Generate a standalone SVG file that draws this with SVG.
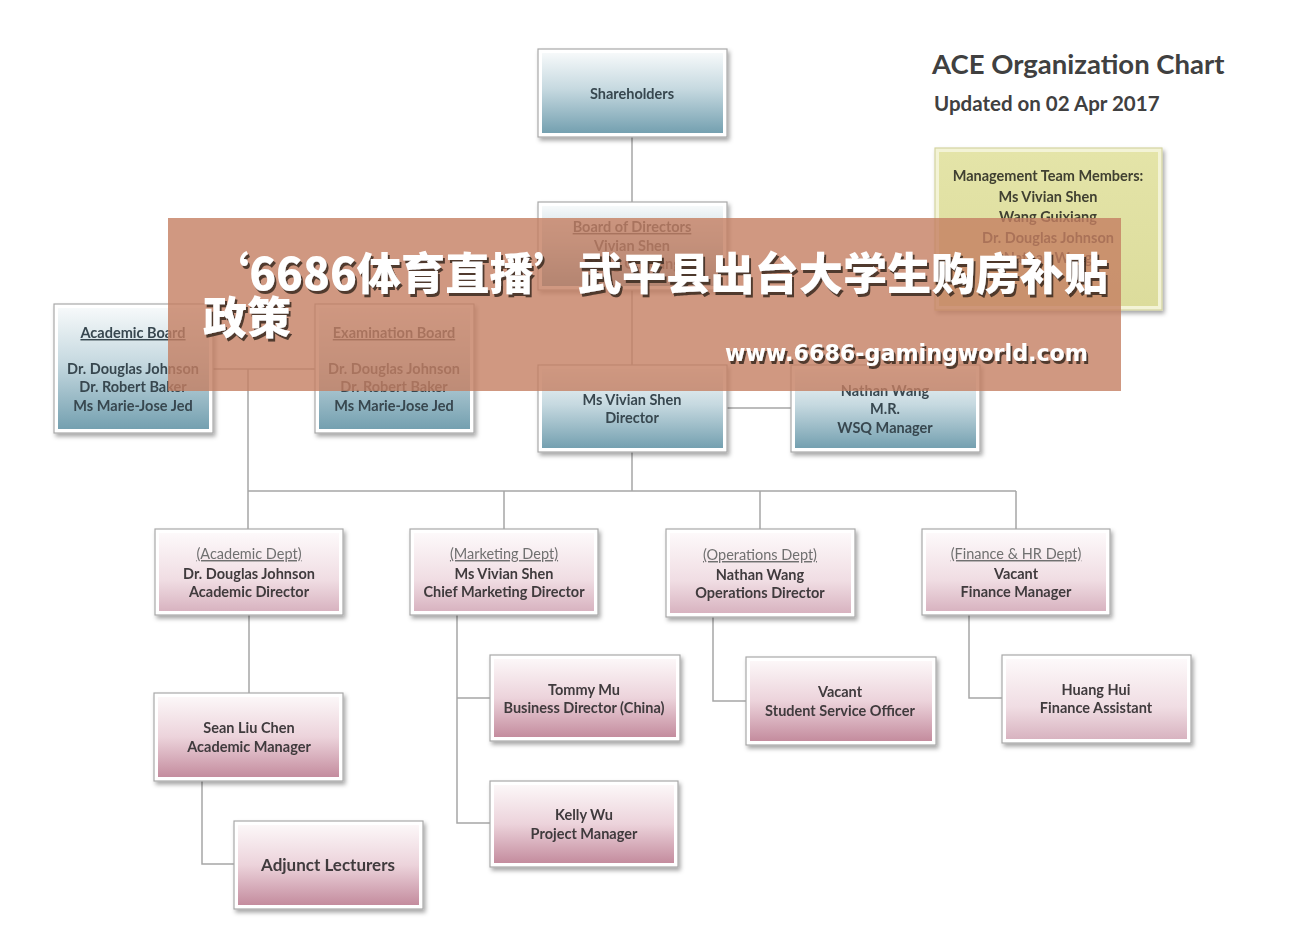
<svg xmlns="http://www.w3.org/2000/svg" width="1289" height="952" viewBox="0 0 1289 952">
<defs>
<linearGradient id="gBlue" x1="0" y1="0" x2="0" y2="1">
<stop offset="0" stop-color="#f6f9fa"/><stop offset="0.45" stop-color="#c6d9e0"/><stop offset="1" stop-color="#74a0b0"/>
</linearGradient>
<linearGradient id="gPink" x1="0" y1="0" x2="0" y2="1">
<stop offset="0" stop-color="#fcf7f8"/><stop offset="0.5" stop-color="#ecd3db"/><stop offset="1" stop-color="#c48c9e"/>
</linearGradient>
<linearGradient id="gPinkL" x1="0" y1="0" x2="0" y2="1">
<stop offset="0" stop-color="#fdf9fa"/><stop offset="0.6" stop-color="#f0dde3"/><stop offset="1" stop-color="#d8b3c0"/>
</linearGradient>
<linearGradient id="gYel" x1="0" y1="0" x2="0" y2="1">
<stop offset="0" stop-color="#e4e4a8"/><stop offset="1" stop-color="#dcdc9c"/>
</linearGradient>
<filter id="sh" x="-10%" y="-10%" width="125%" height="130%">
<feDropShadow dx="2" dy="3" stdDeviation="2" flood-color="#000" flood-opacity="0.35"/>
</filter>
<filter id="tsh" x="-5%" y="-20%" width="110%" height="150%">
<feDropShadow dx="2" dy="3" stdDeviation="0.6" flood-color="#3a2a22" flood-opacity="0.85"/>
</filter>
</defs>
<style>
.o{fill:#ffffff;stroke:#a9a9a9;stroke-width:1.2}
.t{font-family:Lato,"Open Sans","Liberation Sans",sans-serif;font-weight:bold;font-size:14.5px;text-anchor:middle}
.tb{fill:#37474f}
.tp{fill:#3f3a3d}
.h{font-weight:normal;fill:#707070;text-decoration:underline}
.hb{text-decoration:underline}
.c{fill:none;stroke:#a6a6a6;stroke-width:1.5}
</style>
<rect width="1289" height="952" fill="#ffffff"/>

<g id="connectors">
<path class="c" d="M632 137V202M632 290V365M213 369H315M248 369V529M727 408H791M632 452V491M248 491H1016M504 491V529M760 491V529M1016 491V529M249 615V693M202 781V864H234M457 615V823H490M457 698H490M713 617V701H746M969 615V698H1002"/>
</g>

<g id="title">
<text x="932" y="74" style="font-family:Lato,'Open Sans','Liberation Sans',sans-serif;font-weight:bold;font-size:27.5px;fill:#404040">ACE Organization Chart</text>
<text x="934" y="111" style="font-family:Lato,'Open Sans','Liberation Sans',sans-serif;font-weight:bold;font-size:20.5px;fill:#404040">Updated on 02 Apr 2017</text>
</g>

<g id="shareholders" filter="url(#sh)">
<rect class="o" x="538" y="49" width="189" height="88"/><rect x="542" y="53" width="181" height="80" fill="url(#gBlue)"/>
<text class="t tb" x="632" y="99">Shareholders</text>
</g>

<g id="board" filter="url(#sh)">
<rect class="o" x="538" y="202" width="189" height="88"/><rect x="542" y="206" width="181" height="80" fill="url(#gBlue)"/>
<text class="t tb hb" x="632" y="232">Board of Directors</text>
<text class="t tb" x="632" y="251">Vivian Shen</text>
<text class="t tb" x="632" y="269">Wang Guixiang</text>
</g>

<g id="management" filter="url(#sh)">
<rect x="935" y="148" width="227" height="162" fill="#f3f3d6" stroke="#d4d4a0" stroke-width="1.2"/><rect x="939" y="152" width="219" height="154" fill="url(#gYel)"/>
<text class="t" x="1048" y="181" fill="#404030">Management Team Members:</text>
<text class="t" x="1048" y="202" fill="#404030">Ms Vivian Shen</text>
<text class="t" x="1048" y="222" fill="#404030">Wang Guixiang</text>
<text class="t" x="1048" y="243" fill="#404030">Dr. Douglas Johnson</text>
<text class="t" x="1048" y="263" fill="#404030">Nathan Wang</text>
</g>

<g id="academic-board" filter="url(#sh)">
<rect class="o" x="54" y="304" width="159" height="129"/><rect x="58" y="308" width="151" height="121" fill="url(#gBlue)"/>
<text class="t tb hb" x="133" y="338">Academic Board</text>
<text class="t tb" x="133" y="374">Dr. Douglas Johnson</text>
<text class="t tb" x="133" y="392">Dr. Robert Baker</text>
<text class="t tb" x="133" y="411">Ms Marie-Jose Jed</text>
</g>

<g id="examination-board" filter="url(#sh)">
<rect class="o" x="315" y="304" width="159" height="129"/><rect x="319" y="308" width="151" height="121" fill="url(#gBlue)"/>
<text class="t tb hb" x="394" y="338">Examination Board</text>
<text class="t tb" x="394" y="374">Dr. Douglas Johnson</text>
<text class="t tb" x="394" y="392">Dr. Robert Baker</text>
<text class="t tb" x="394" y="411">Ms Marie-Jose Jed</text>
</g>

<g id="director" filter="url(#sh)">
<rect class="o" x="538" y="365" width="189" height="87"/><rect x="542" y="369" width="181" height="79" fill="url(#gBlue)"/>
<text class="t tb" x="632" y="405">Ms Vivian Shen</text>
<text class="t tb" x="632" y="423">Director</text>
</g>

<g id="wsq-manager" filter="url(#sh)">
<rect class="o" x="791" y="365" width="189" height="87"/><rect x="795" y="369" width="181" height="79" fill="url(#gBlue)"/>
<text class="t tb" x="885" y="396">Nathan Wang</text>
<text class="t tb" x="885" y="414">M.R.</text>
<text class="t tb" x="885" y="433">WSQ Manager</text>
</g>

<g id="academic-dept" filter="url(#sh)">
<rect class="o" x="155" y="529" width="188" height="86"/><rect x="159" y="533" width="180" height="78" fill="url(#gPinkL)"/>
<text class="t h" x="249" y="559">(Academic Dept)</text>
<text class="t tp" x="249" y="579">Dr. Douglas Johnson</text>
<text class="t tp" x="249" y="597">Academic Director</text>
</g>

<g id="marketing-dept" filter="url(#sh)">
<rect class="o" x="410" y="529" width="188" height="86"/><rect x="414" y="533" width="180" height="78" fill="url(#gPinkL)"/>
<text class="t h" x="504" y="559">(Marketing Dept)</text>
<text class="t tp" x="504" y="579">Ms Vivian Shen</text>
<text class="t tp" x="504" y="597">Chief Marketing Director</text>
</g>

<g id="operations-dept" filter="url(#sh)">
<rect class="o" x="666" y="529" width="189" height="88"/><rect x="670" y="533" width="181" height="80" fill="url(#gPinkL)"/>
<text class="t h" x="760" y="560">(Operations Dept)</text>
<text class="t tp" x="760" y="580">Nathan Wang</text>
<text class="t tp" x="760" y="598">Operations Director</text>
</g>

<g id="finance-dept" filter="url(#sh)">
<rect class="o" x="922" y="529" width="188" height="86"/><rect x="926" y="533" width="180" height="78" fill="url(#gPinkL)"/>
<text class="t h" x="1016" y="559">(Finance &amp; HR Dept)</text>
<text class="t tp" x="1016" y="579">Vacant</text>
<text class="t tp" x="1016" y="597">Finance Manager</text>
</g>

<g id="academic-manager" filter="url(#sh)">
<rect class="o" x="154" y="693" width="189" height="88"/><rect x="158" y="697" width="181" height="80" fill="url(#gPink)"/>
<text class="t tp" x="249" y="733">Sean Liu Chen</text>
<text class="t tp" x="249" y="752">Academic Manager</text>
</g>

<g id="adjunct-lecturers" filter="url(#sh)">
<rect class="o" x="234" y="821" width="189" height="88"/><rect x="238" y="825" width="181" height="80" fill="url(#gPink)"/>
<text class="t tp" x="328" y="871" style="font-size:17px">Adjunct Lecturers</text>
</g>

<g id="business-director" filter="url(#sh)">
<rect class="o" x="490" y="655" width="190" height="86"/><rect x="494" y="659" width="182" height="78" fill="url(#gPink)"/>
<text class="t tp" x="584" y="695">Tommy Mu</text>
<text class="t tp" x="584" y="713">Business Director (China)</text>
</g>

<g id="project-manager" filter="url(#sh)">
<rect class="o" x="490" y="781" width="188" height="86"/><rect x="494" y="785" width="180" height="78" fill="url(#gPink)"/>
<text class="t tp" x="584" y="820">Kelly Wu</text>
<text class="t tp" x="584" y="839">Project Manager</text>
</g>

<g id="student-service-officer" filter="url(#sh)">
<rect class="o" x="746" y="657" width="190" height="88"/><rect x="750" y="661" width="182" height="80" fill="url(#gPink)"/>
<text class="t tp" x="840" y="697">Vacant</text>
<text class="t tp" x="840" y="716">Student Service Officer</text>
</g>

<g id="finance-assistant" filter="url(#sh)">
<rect class="o" x="1002" y="655" width="189" height="88"/><rect x="1006" y="659" width="181" height="80" fill="url(#gPinkL)"/>
<text class="t tp" x="1096" y="695">Huang Hui</text>
<text class="t tp" x="1096" y="713">Finance Assistant</text>
</g>

<g id="banner">
<rect x="168" y="218" width="953" height="173" fill="#c47e62" opacity="0.8"/>
<g filter="url(#tsh)" fill="#ffffff" style="font-family:'Noto Sans CJK SC','Noto Sans',sans-serif;font-weight:900">
<text x="205" y="290" font-size="44" textLength="903" lengthAdjust="spacingAndGlyphs">‘6686体育直播’武平县出台大学生购房补贴</text>
<text x="203" y="334" font-size="44">政策</text>
<text x="725" y="361" font-size="23" textLength="363" lengthAdjust="spacingAndGlyphs" style="font-family:'DejaVu Sans','Liberation Sans',sans-serif;font-weight:bold">www.6686-gamingworld.com</text>
</g>
</g>
</svg>
